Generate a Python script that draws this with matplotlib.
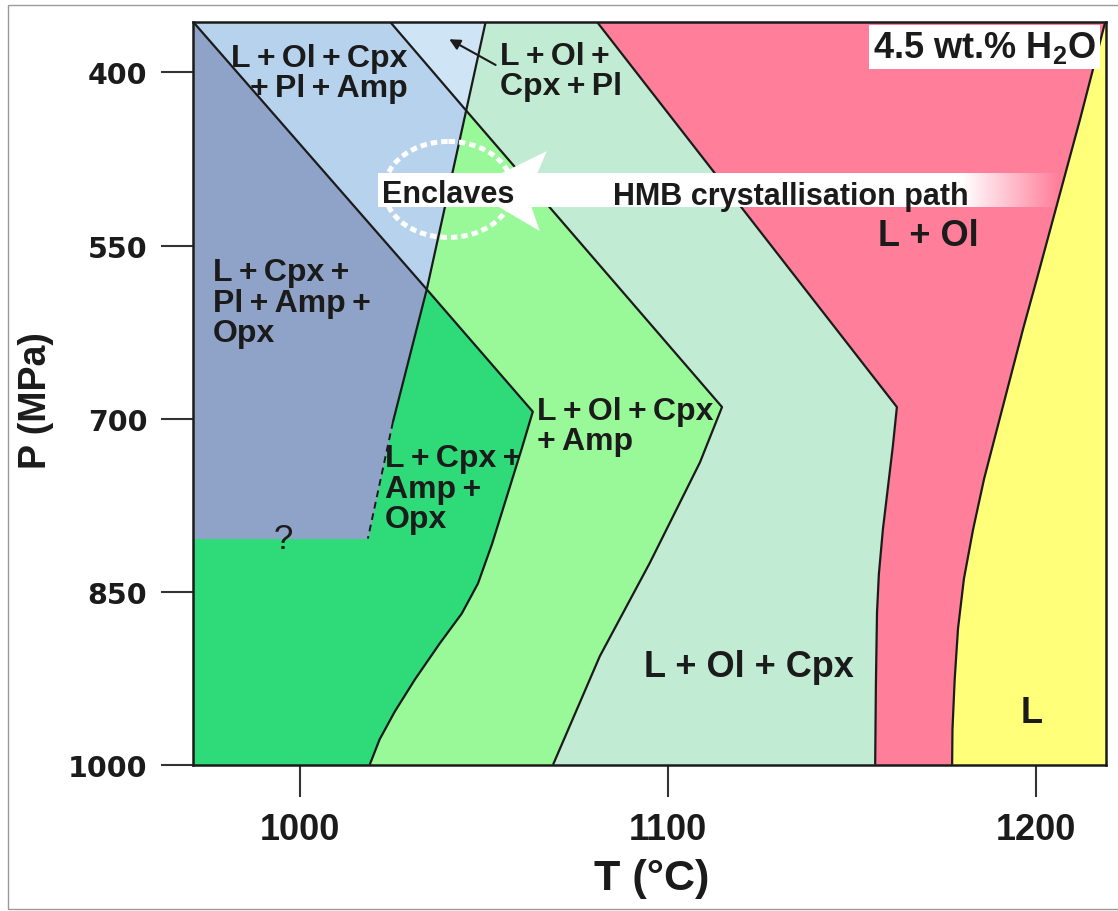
import numpy as np
import matplotlib
matplotlib.use("Agg")
import matplotlib.pyplot as plt
from matplotlib.patches import Ellipse, Polygon, Rectangle

# ---------------------------------------------------------------
# Phase boundaries, temperature (°C) as a function of pressure (MPa)
# ---------------------------------------------------------------
ol_out_T = [971.0, 1034.5, 1063.3, 1060.3, 1056.5, 1052.2, 1048.4, 1044.0,
            1038.0, 1031.3, 1025.8, 1021.7, 1019.0]
ol_out_P = [356, 588, 694, 726, 765, 809, 843, 869, 895, 926, 954, 978, 1000]

amp_out_T = [1024.5, 1045.2, 1114.7, 1108.7, 1095.1, 1081.5, 1068.8]
amp_out_P = [356, 433, 690, 738, 825, 906, 1000]

pl_out_T = [1050.5, 1045.2, 1034.5, 1025.3]
pl_out_P = [356, 433, 588, 703]

pl_out_inferred_T = [1025.3, 1018.5]
pl_out_inferred_P = [703, 804]

pl_out_low_T_P = 804          # poorly constrained lower limit of the Pl field

cpx_out_T = [1080.7, 1162.2, 1161.1, 1158.4, 1157.3, 1156.8, 1156.5, 1156.3]
cpx_out_P = [356, 690, 724, 796, 835, 868, 930, 1000]

liquidus_T = [1218.8, 1212.0, 1200.3, 1196.5, 1192.9, 1189.4, 1185.9, 1182.9,
              1180.4, 1178.8, 1177.9, 1177.3, 1177.2]
liquidus_P = [356, 440, 578, 622, 666, 709, 752, 796, 839, 882, 926, 969, 1000]

T_ticks = [1000, 1100, 1200]
P_ticks = [400, 550, 700, 850, 1000]
T_range = (971, 1219)
P_range = (1000, 356)

water_label = "4.5 wt.% H$_{\\mathbf{2}}$O"

# field colours
c_pl_opx = "#8FA2C7"     # L + Cpx + Pl + Amp + Opx
c_pl_amp = "#B6D2ED"     # L + Ol + Cpx + Pl + Amp
c_pl = "#CFE5F6"         # L + Ol + Cpx + Pl
c_amp_opx = "#2FDA78"    # L + Cpx + Amp + Opx
c_amp = "#99F999"        # L + Ol + Cpx + Amp
c_cpx = "#C2EBD3"        # L + Ol + Cpx
c_ol = "#FF7F9B"         # L + Ol
c_liq = "#FFFF7A"        # L
ink = "#1b1b1b"

plt.rcParams["mathtext.fontset"] = "custom"
plt.rcParams["mathtext.rm"] = "Liberation Sans"
plt.rcParams["mathtext.bf"] = "Liberation Sans:bold"
SANS = ["Liberation Sans", "DejaVu Sans"]

W, H = 1118, 912
fig = plt.figure(figsize=(W / 100, H / 100), dpi=100)
fig.patch.set_facecolor("white")
ax = fig.add_axes([193 / W, 1 - 765.7 / H, 913 / W, 743 / H])

# ---------------------------------------------------------------
# Stability fields, painted from high T to low T
# ---------------------------------------------------------------
grid = np.unique(np.concatenate([
    np.linspace(P_range[1], P_range[0], 900),
    ol_out_P, amp_out_P, pl_out_P, pl_out_inferred_P, cpx_out_P, liquidus_P,
]))


def along(T, P, g):
    return np.interp(g, P, T)


pl_all_T = pl_out_T + pl_out_inferred_T[1:]
pl_all_P = pl_out_P + pl_out_inferred_P[1:]
Tmin = T_range[0]

ax.set_facecolor(c_liq)
ax.fill_betweenx(grid, Tmin, along(liquidus_T, liquidus_P, grid), color=c_ol, lw=0, zorder=1)
ax.fill_betweenx(grid, Tmin, along(cpx_out_T, cpx_out_P, grid), color=c_cpx, lw=0, zorder=1)
ax.fill_betweenx(grid, Tmin, along(amp_out_T, amp_out_P, grid), color=c_amp, lw=0, zorder=1)
ax.fill_betweenx(grid, Tmin, along(ol_out_T, ol_out_P, grid), color=c_amp_opx, lw=0, zorder=1)

g1 = grid[grid <= pl_out_P[1]]
ax.fill_betweenx(g1, Tmin, along(pl_out_T, pl_out_P, g1), color=c_pl, lw=0, zorder=1)
g2 = grid[grid <= pl_out_P[2]]
ax.fill_betweenx(g2, Tmin, np.minimum(along(amp_out_T, amp_out_P, g2),
                                      along(pl_out_T, pl_out_P, g2)),
                 color=c_pl_amp, lw=0, zorder=1)
g3 = grid[grid <= pl_out_low_T_P]
ax.fill_betweenx(g3, Tmin, np.minimum(along(ol_out_T, ol_out_P, g3),
                                      along(pl_all_T, pl_all_P, g3)),
                 color=c_pl_opx, lw=0, zorder=1)

# boundary curves
line_kw = dict(color=ink, lw=1.6, zorder=2, solid_capstyle="butt")
for T, P in [(ol_out_T, ol_out_P), (amp_out_T, amp_out_P), (pl_out_T, pl_out_P),
             (cpx_out_T, cpx_out_P), (liquidus_T, liquidus_P)]:
    ax.plot(T, P, **line_kw)
ax.plot(pl_out_inferred_T, pl_out_inferred_P, color=ink, lw=1.4, ls=(0, (3.5, 2.5)), zorder=2)

# ---------------------------------------------------------------
# Crystallisation path arrow with fading tail
# ---------------------------------------------------------------
band_T0, band_T1 = 1021.2, 1206.0
fade_start, fade_end = 1180.0, 1206.0
xs = np.linspace(band_T0, band_T1, 500)
rgba = np.ones((1, xs.size, 4))
rgba[..., 3] = np.clip((fade_end - xs) / (fade_end - fade_start), 0, 1)
ax.imshow(rgba, extent=(band_T0, band_T1, 517.0, 488.3), aspect="auto",
          interpolation="bilinear", zorder=3)
ax.add_patch(Polygon([(1045.9, 501.1), (1067.1, 468.2), (1064.4, 488.3),
                      (1063.0, 517.0), (1065.2, 537.5)],
                     closed=True, fc="white", ec="none", zorder=3))
ax.add_patch(Ellipse((1040.4, 501.4), width=34.8, height=83.2, fill=False,
                     ec="white", lw=3.6, ls=(0, (1.3, 0.8)), zorder=3.5))

ax.annotate("", xy=(1040.6, 371.2), xytext=(1053.2, 393.5),
            arrowprops=dict(arrowstyle="-|>", color=ink, lw=1.5,
                            mutation_scale=16, shrinkA=0, shrinkB=0),
            zorder=5)


# ---------------------------------------------------------------
# Labels (P given at the baseline of the last line)
# ---------------------------------------------------------------
def tight(s):
    return s.replace(" ", "\u2009")


def label(s, T, P, size=23, ha="left", va="baseline", weight="bold", **kw):
    ax.text(T, P, s, fontsize=size, ha=ha, va=va, fontweight=weight,
            family=SANS, color=ink, linespacing=1.02, zorder=6, **kw)


label(tight("L + Ol + Cpx\n+ Pl + Amp"), 1029.3, 420.5, ha="right", multialignment="right")
label(tight("L + Ol +\nCpx + Pl"), 1054.3, 418.8)
label(tight("L + Cpx +\nPl + Amp +\nOpx"), 976.4, 633.0)
label(tight("L + Ol + Cpx\n+ Amp"), 1064.4, 726.4)
label(tight("L + Cpx +\nAmp +\nOpx"), 1023.1, 794.0)
label("?", 995.4, 812.0, size=25, ha="center", weight="normal")
label("L + Ol", 1170.7, 549.7, size=26, ha="center")
label("L + Ol + Cpx", 1122.0, 923.1, size=26, ha="center")
label("L", 1198.9, 963.0, size=26, ha="center")
label("Enclaves", 1040.2, 512.6, size=22, ha="center")
label("HMB crystallisation path", 1133.4, 514.1, size=22, ha="center")
ax.text(1216.3, 386.7, water_label, fontsize=26, ha="right", va="baseline",
        fontweight="bold", family=SANS, color=ink, zorder=6,
        bbox=dict(boxstyle="square,pad=0.12", fc="white", ec="none"))

# ---------------------------------------------------------------
# Axes
# ---------------------------------------------------------------
ax.set_xlim(*T_range)
ax.set_ylim(*P_range)
ax.set_xticks(T_ticks)
ax.set_yticks(P_ticks)
ax.tick_params(axis="both", direction="out", length=23, width=1.5, color="#333333")
ax.tick_params(axis="x", pad=11)
ax.tick_params(axis="y", pad=10)
for t in ax.get_xticklabels():
    t.set_fontfamily(SANS)
    t.set_fontweight("bold")
    t.set_fontsize(26)
    t.set_color(ink)
for t in ax.get_yticklabels():
    t.set_fontfamily("DejaVu Sans")
    t.set_fontweight("bold")
    t.set_fontsize(20.5)
    t.set_color(ink)
for sp in ax.spines.values():
    sp.set_linewidth(1.8)
    sp.set_color(ink)
    sp.set_zorder(7)

ax.set_xlabel("T (°C)", fontsize=31, fontweight="bold", family=SANS, color=ink)
ax.xaxis.set_label_coords(0.502, -0.125)
ax.set_ylabel("P (MPa)", fontsize=27, fontweight="bold", family=SANS, color=ink)
ax.yaxis.set_label_coords(-0.152, 0.492)

# thin frame around the whole figure
fig.patches.append(Rectangle((8 / W, 2 / H), 1.2, 904 / H, transform=fig.transFigure,
                             fill=False, ec="#9a9a9a", lw=1.0))

fig.savefig("out.png", dpi=100, facecolor="white")
